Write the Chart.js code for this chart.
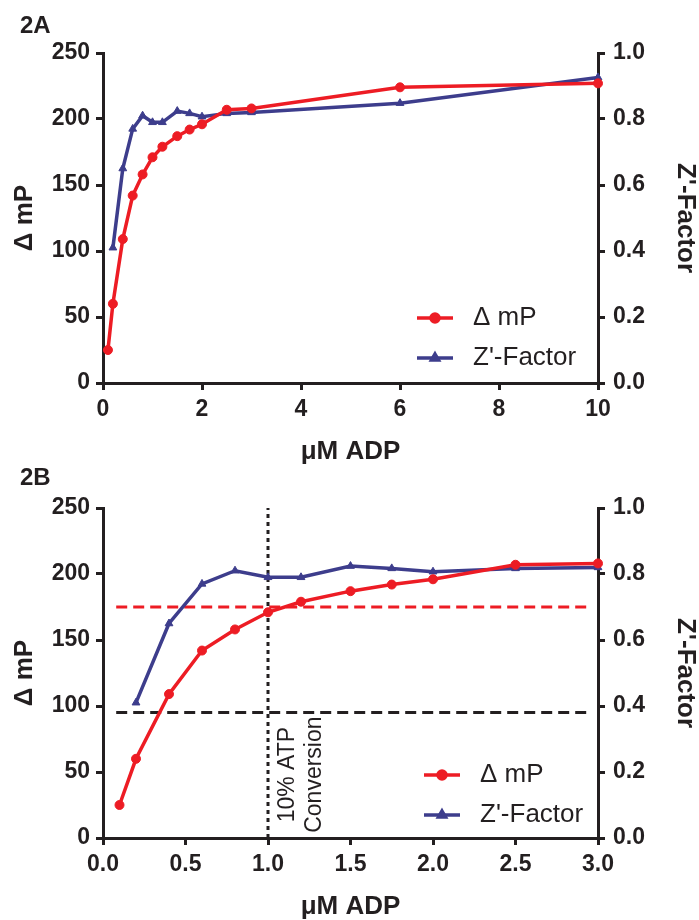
<!DOCTYPE html>
<html>
<head>
<meta charset="utf-8">
<script src="https://cdn.jsdelivr.net/npm/chart.js@4/dist/chart.umd.min.js"></script>
<style>
  body { margin: 0; background: #fff; }
  #wrap { position: relative; width: 699px; height: 920px; }
  canvas { position: absolute; left: 0; }
  .panel { position: absolute; left: 20px; font: bold 24px 'Liberation Sans', Arial, sans-serif; color: #231f20; }
</style>
</head>
<body>
<div id="wrap">
  <canvas id="chartA" width="699" height="465" style="top:0"></canvas>
  <canvas id="chartB" width="699" height="455" style="top:465px"></canvas>
  <div class="panel" style="top:11px">2A</div>
  <div class="panel" style="top:463px">2B</div>
</div>
<script>
// ADP concentration (uM) for the delta mP series
let adp = [0.1, 0.2, 0.4, 0.6, 0.8, 1.0, 1.2, 1.5, 1.75, 2.0, 2.5, 3.0, 6, 10];
let deltaMP = [25, 60, 109, 142, 158, 171, 179, 187, 192, 196, 207, 208, 224, 227];
// Z'-factor has no value at 0.1 uM
let zAdp = [0.2, 0.4, 0.6, 0.8, 1.0, 1.2, 1.5, 1.75, 2.0, 2.5, 3.0, 6, 10];
let zFactor = [0.41, 0.65, 0.77, 0.81, 0.79, 0.79, 0.824, 0.817, 0.807, 0.817, 0.82, 0.848, 0.926];

// reference lines on panel 2B
let mpThreshold = 175;      // red dashed
let lowThreshold = 95;      // black dashed
let refSpan = [0.08, 2.96];
let conversionAdp = 1.0;    // 10% ATP conversion
let noteLines = ['10% ATP', 'Conversion'];
let noteY = 48;

const RED = '#ed1c24';
const BLUE = '#3d3d8c';
const INK = '#231f20';
const FONT = "'Liberation Sans', Arial, sans-serif";

function pts(xs, ys, maxX) {
  return xs.map((x, i) => ({ x: x, y: ys[i] })).filter(p => p.x <= maxX);
}

const insideLegend = {
  id: 'insideLegend',
  afterDatasetsDraw(chart, args, opts) {
    const ctx = chart.ctx;
    let row = 0;
    ctx.save();
    chart.data.datasets.forEach(ds => {
      if (!ds.label) return;
      const y = opts.y + row * opts.gap;
      ctx.strokeStyle = ds.borderColor;
      ctx.lineWidth = 3.5;
      ctx.setLineDash([]);
      ctx.beginPath();
      ctx.moveTo(opts.x, y);
      ctx.lineTo(opts.x + 36, y);
      ctx.stroke();
      ctx.fillStyle = ds.borderColor;
      Chart.helpers.drawPoint(ctx, { pointStyle: ds.pointStyle, radius: 4, rotation: 0, borderWidth: 1 }, opts.x + 18, y);
      ctx.fillStyle = INK;
      ctx.font = '26px ' + FONT;
      ctx.textBaseline = 'middle';
      ctx.textAlign = 'left';
      ctx.fillText(ds.label, opts.x + 56, y);
      row++;
    });
    ctx.restore();
  }
};

const note = {
  id: 'note',
  afterDatasetsDraw(chart, args, opts) {
    if (!opts.show) return;
    const ctx = chart.ctx;
    const x = chart.scales.x.getPixelForValue(conversionAdp);
    const y = chart.scales.y.getPixelForValue(noteY);
    ctx.save();
    ctx.fillStyle = INK;
    ctx.font = '23px ' + FONT;
    ctx.textAlign = 'center';
    ctx.textBaseline = 'middle';
    noteLines.forEach((t, i) => {
      ctx.save();
      ctx.translate(x + 20 + i * 27, y);
      ctx.rotate(-Math.PI / 2);
      ctx.fillText(t, 0, 0);
      ctx.restore();
    });
    ctx.restore();
  }
};

function axisCommon() {
  return {
    grid: { drawOnChartArea: false, drawTicks: true, tickLength: 7, lineWidth: 3, color: INK },
    border: { display: true, width: 3, color: INK }
  };
}

function makeChart(id, xMax, xStep, xDec, extra, legendPos, topPad, showNote) {
  const tickFont = { family: FONT, size: 23, weight: 'bold' };
  const titleFont = { family: FONT, size: 26, weight: 'bold', lineHeight: 1.0 };
  const datasets = [
    {
      label: '\u0394 mP', data: pts(adp, deltaMP, xMax), yAxisID: 'y',
      borderColor: RED, backgroundColor: RED, borderWidth: 3.5,
      pointStyle: 'circle', pointRadius: 4.5, pointBorderWidth: 1, clip: false
    },
    {
      label: "Z'-Factor", data: pts(zAdp, zFactor, xMax), yAxisID: 'y2',
      borderColor: BLUE, backgroundColor: BLUE, borderWidth: 3.5,
      pointStyle: 'triangle', pointRadius: 4.5, pointBorderWidth: 1, clip: false
    }
  ].concat(extra);

  return new Chart(document.getElementById(id), {
    type: 'line',
    data: { datasets: datasets },
    options: {
      responsive: false,
      animation: false,
      events: [],
      layout: { padding: { top: topPad, left: 0, right: 0, bottom: 0 } },
      plugins: {
        legend: { display: false },
        tooltip: { enabled: false },
        insideLegend: legendPos,
        note: { show: showNote }
      },
      scales: {
        x: Object.assign(axisCommon(), {
          type: 'linear', min: 0, max: xMax,
          ticks: { stepSize: xStep, autoSkip: false, maxRotation: 0, padding: 6, color: INK, font: tickFont,
                   callback: v => v.toFixed(xDec) },
          title: { display: true, text: '\u03bcM ADP', color: INK, font: titleFont, padding: 0 },
          afterFit: s => { s.height = 82; }
        }),
        y: Object.assign(axisCommon(), {
          position: 'left', min: 0, max: 250,
          ticks: { stepSize: 50, autoSkip: false, padding: 6, color: INK, font: tickFont },
          title: { display: true, text: '\u0394 mP', color: INK, font: titleFont, padding: { top: 12, bottom: 0 } },
          afterFit: s => { s.width = 103; }
        }),
        y2: Object.assign(axisCommon(), {
          position: 'right', min: 0, max: 1,
          ticks: { stepSize: 0.2, autoSkip: false, padding: 8, color: INK, font: tickFont,
                   callback: v => v.toFixed(1) },
          title: { display: true, text: "Z'-Factor", color: INK, font: titleFont, padding: { top: 1, bottom: 0 } },
          afterFit: s => { s.width = 101; }
        })
      }
    },
    plugins: [insideLegend, note]
  });
}

function refLine(xs, ys, color, dash) {
  return {
    data: xs.map((x, i) => ({ x: x, y: ys[i] })), yAxisID: 'y',
    borderColor: color, borderWidth: 3, borderDash: dash, pointRadius: 0, clip: false
  };
}

makeChart('chartA', 10, 2, 0, [], { x: 417, y: 318, gap: 40 }, 53, false);

makeChart('chartB', 3, 0.5, 1, [
  refLine([conversionAdp, conversionAdp], [0, 250], INK, [4, 4]),
  refLine(refSpan, [mpThreshold, mpThreshold], RED, [11, 6]),
  refLine(refSpan, [lowThreshold, lowThreshold], INK, [11, 6])
], { x: 424, y: 310, gap: 40 }, 43, true);
</script>
</body>
</html>
